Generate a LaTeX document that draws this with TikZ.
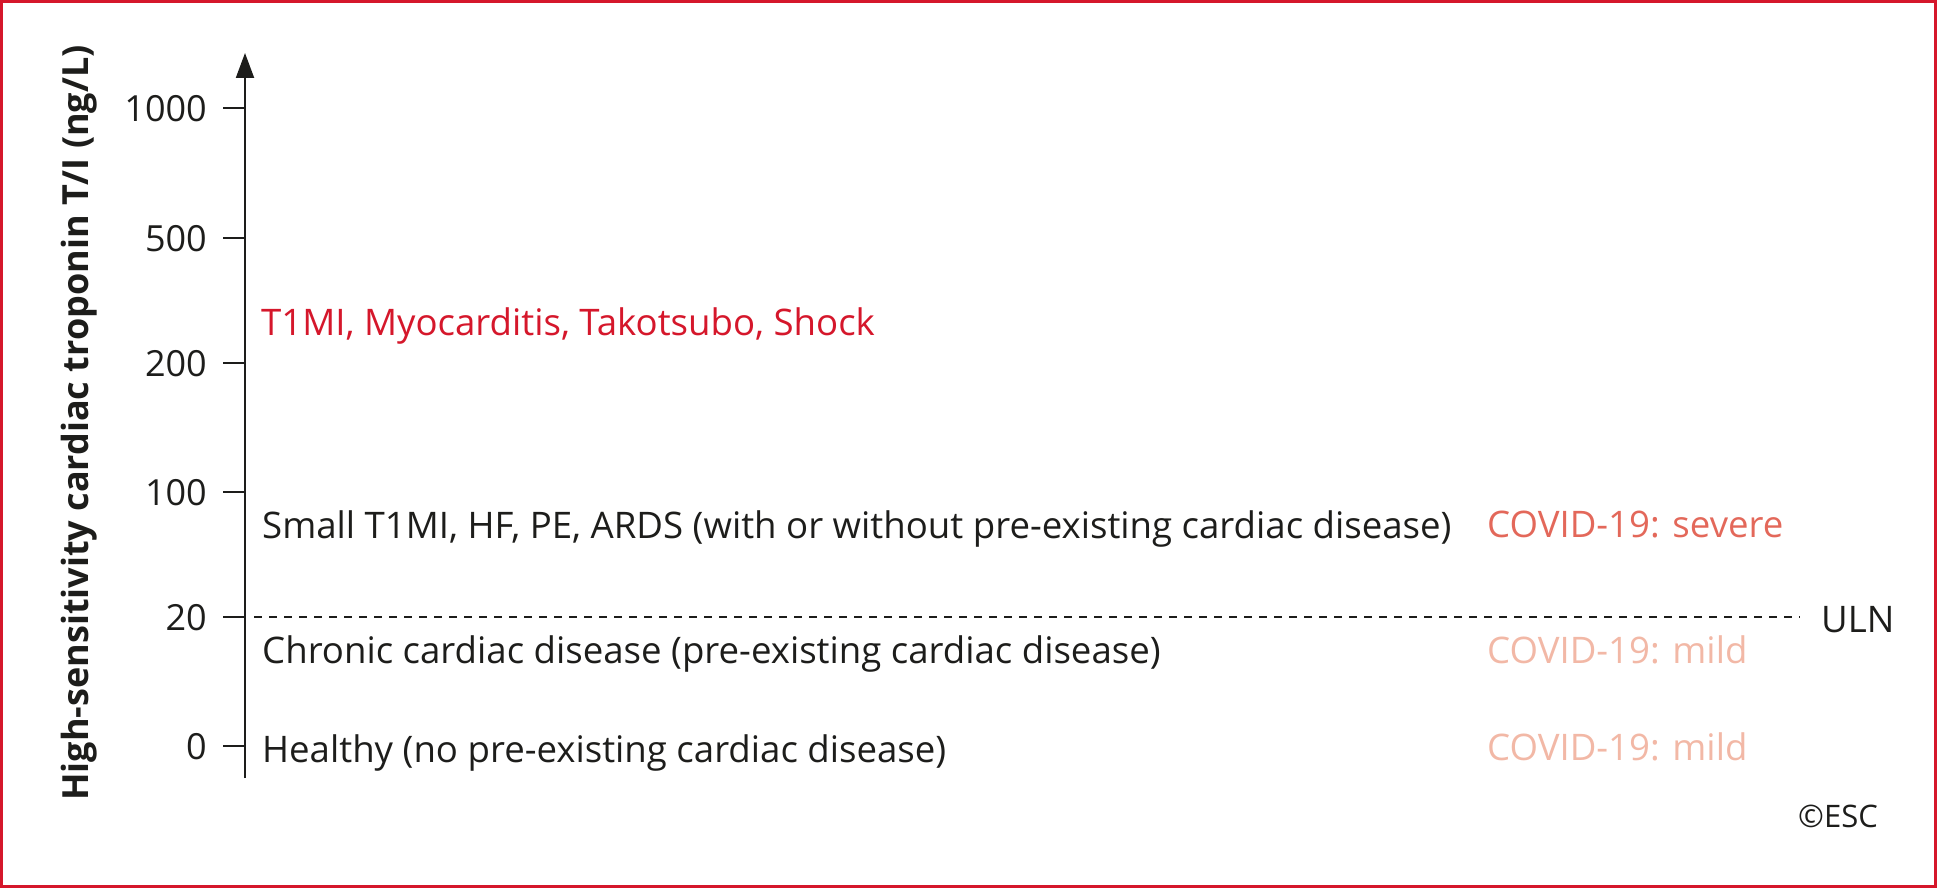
\documentclass[tikz,border=0pt]{standalone}
\usepackage{fontspec}
\setmainfont{Open Sans}
\usetikzlibrary{arrows.meta}
\definecolor{escred}{HTML}{D5172B}
\definecolor{sevred}{HTML}{E3685A}
\definecolor{mildred}{HTML}{F2B8A6}
\definecolor{ink}{HTML}{1D1D1B}
\begin{document}
\begin{tikzpicture}[x=1pt,y=-1pt,
  txt/.style={anchor=base west,inner sep=0pt,text=ink,font=\fontsize{36.6}{44}\selectfont},
  ticklbl/.style={anchor=base east,inner sep=0pt,text=ink,font=\fontsize{36}{42}\selectfont},
  tickline/.style={draw=ink,line width=2pt},
  axisline/.style={draw=ink,line width=2pt,-{Triangle[length=25pt,width=18pt]}},
  uln/.style={draw=ink,line width=1.6pt,dash pattern=on 8pt off 7pt}]
\useasboundingbox (0,0) rectangle (1937,888);
\draw[escred,line width=3pt] (1.5,1.5) rectangle (1935.5,886.5);
% axis
\coordinate (axbot) at (245,778);
\coordinate (axtop) at (245,53);
\draw[axisline] (axbot) -- (axtop);
% ticks
\foreach \v/\y in {1000/108,500/238,200/363,100/492,20/617,0/746}{
  \coordinate (t\v) at (245,\y);
  \draw[tickline] (t\v) -- ++(-22,0);
  \node[ticklbl] (l\v) at (207,\y+13.5) {\v};
}
% ULN
\coordinate (d0) at (254,617);
\coordinate (d1) at (1800,617);
\draw[uln] (d0) -- (d1);
\node[txt] (uln) at (1821,632) {ULN};
% texts
\node[txt,text=escred] (shock) at (261,335) {T1MI, Myocarditis, Takotsubo, Shock};
\node[txt] (small) at (262,538) {Small T1MI, HF, PE, ARDS (with or without pre-existing cardiac disease)};
\node[txt] (chronic) at (262,663) {Chronic cardiac disease (pre-existing cardiac disease)};
\node[txt] (healthy) at (262,762) {Healthy (no pre-existing cardiac disease)};
\node[txt,text=sevred] (sev) at (1487,537) {COVID-19: severe};
\node[txt,text=mildred] (mild1) at (1487,663) {COVID-19: mild};
\node[txt,text=mildred] (mild2) at (1487,760) {COVID-19: mild};
\node[anchor=base west,inner sep=0pt,text=ink,font=\fontsize{31}{36}\selectfont] (esc) at (1798,827) {©ESC};
% y label
\node[rotate=90,anchor=base,inner sep=0pt,text=ink,font=\fontsize{36}{42}\selectfont\bfseries] (ylab) at (88,423) {High-sensitivity cardiac troponin T/I (ng/L)};
\end{tikzpicture}
\end{document}
